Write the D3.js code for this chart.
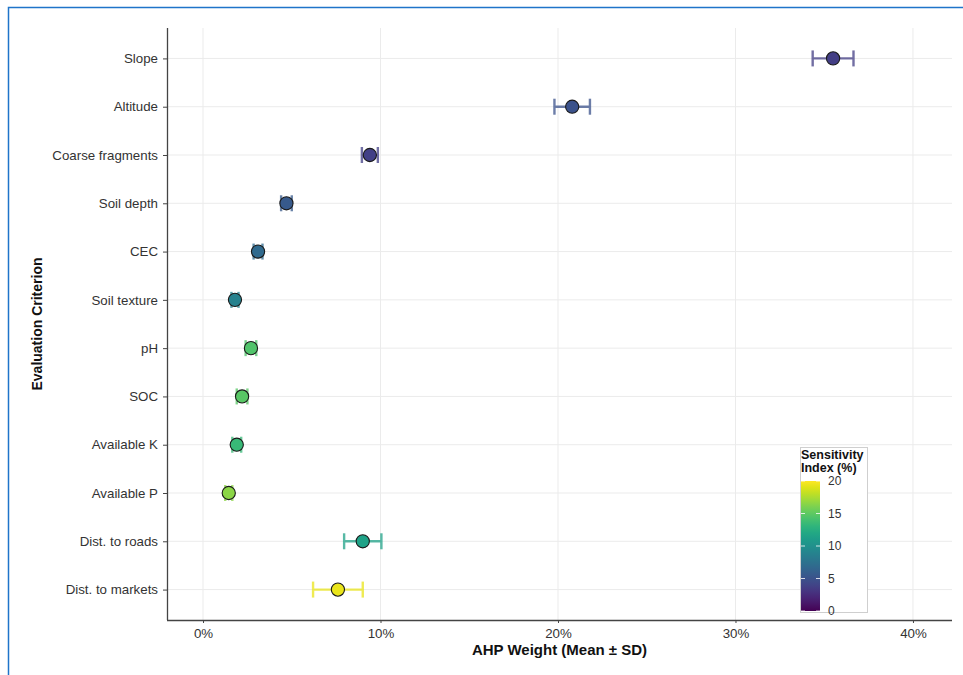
<!DOCTYPE html>
<html><head><meta charset="utf-8">
<script src="https://cdn.jsdelivr.net/npm/d3@7"></script>
<style>body{margin:0;background:#fff;}svg{display:block;font-family:"Liberation Sans",Arial,sans-serif;}</style>
</head><body>
<script>
const criteria = ["Slope","Altitude","Coarse fragments","Soil depth","CEC","Soil texture","pH","SOC","Available K","Available P","Dist. to roads","Dist. to markets"];
const meanWeight = [35.5, 20.8, 9.4, 4.7, 3.1, 1.8, 2.7, 2.2, 1.9, 1.45, 9.0, 7.6];
const sdWeight   = [1.15, 1.0, 0.45, 0.3, 0.25, 0.2, 0.3, 0.3, 0.25, 0.2, 1.05, 1.4];
const sensitivity = [3.6, 5.0, 3.8, 5.6, 6.8, 8.8, 14.5, 14.8, 13.5, 16.5, 11.5, 19.3];
const xTicks = [0, 10, 20, 30, 40];
const legendTicks = [0, 5, 10, 15, 20];

const W = 963, H = 675;
const svg = d3.select("body").append("svg").attr("width", W).attr("height", H);
svg.append("rect").attr("width", W).attr("height", H).attr("fill", "#fff");
// blue frame
svg.append("path").attr("d", `M8.5,${H} L8.5,7.5 L${W},7.5`).attr("fill","none").attr("stroke","#1f74c9").attr("stroke-width",1.5);

const L = 167, R = 952, T = 28, B = 620;
const x = d3.scaleLinear().domain([-2.03, 42.2]).range([L, R]);
const y = d3.scalePoint().domain(criteria).range([T, B]).padding(0.63);
const color = d3.scaleSequential(d3.interpolateViridis).domain([0, 20]);

const data = criteria.map((c, i) => ({c, m: meanWeight[i], sd: sdWeight[i], s: sensitivity[i]}));

// grid
const g = svg.append("g");
g.selectAll(".vg").data(xTicks).join("line")
  .attr("x1", d => x(d)).attr("x2", d => x(d)).attr("y1", T).attr("y2", B)
  .attr("stroke", "#ebebeb").attr("stroke-width", 1);
g.selectAll(".hg").data(criteria).join("line")
  .attr("x1", L).attr("x2", R).attr("y1", d => y(d)).attr("y2", d => y(d))
  .attr("stroke", "#ebebeb").attr("stroke-width", 1);

// axes
const xAxis = svg.append("g").attr("transform", `translate(0,${B})`)
  .call(d3.axisBottom(x).tickValues(xTicks).tickFormat(d => d + "%").tickSize(3).tickPadding(6).tickSizeOuter(0));
const yAxis = svg.append("g").attr("transform", `translate(${L},0)`)
  .call(d3.axisLeft(y).tickSize(4).tickPadding(5).tickSizeOuter(0));
[xAxis, yAxis].forEach(a => {
  a.select(".domain").attr("stroke", "#444").attr("stroke-width", 1.3);
  a.selectAll(".tick line").attr("stroke", "#444");
  a.selectAll(".tick text").attr("fill", "#333").style("font-size", "13.3px").style("font-family", '"Liberation Sans",Arial,sans-serif');
});
xAxis.select(".domain").attr("d", `M${L},0.5H${R}`);
yAxis.select(".domain").attr("d", `M0.5,${T}V${B}`);

// error bars
const eb = svg.append("g");
data.forEach(d => {
  const gg = eb.append("g").attr("stroke", color(d.s)).attr("stroke-width", 2.4).attr("opacity", 0.75);
  const yy = y(d.c);
  gg.append("line").attr("x1", x(d.m - d.sd)).attr("x2", x(d.m + d.sd)).attr("y1", yy).attr("y2", yy);
  [d.m - d.sd, d.m + d.sd].forEach(v => gg.append("line").attr("x1", x(v)).attr("x2", x(v)).attr("y1", yy - 8).attr("y2", yy + 8));
});
// points
svg.append("g").selectAll("circle").data(data).join("circle")
  .attr("cx", d => x(d.m)).attr("cy", d => y(d.c)).attr("r", 6.6)
  .attr("fill", d => color(d.s)).attr("stroke", "#1a1a1a").attr("stroke-width", 1.1);

// axis titles
svg.append("text").attr("x", (L + R) / 2).attr("y", 655).attr("text-anchor", "middle")
  .style("font-size", "15px").style("font-weight", "bold").attr("fill", "#111").text("AHP Weight (Mean ± SD)");
svg.append("text").attr("transform", `translate(42,${(T + B) / 2}) rotate(-90)`).attr("text-anchor", "middle")
  .style("font-size", "14px").style("font-weight", "bold").attr("fill", "#111").text("Evaluation Criterion");

// legend
const lg = svg.append("g");
lg.append("rect").attr("x", 800.5).attr("y", 447.5).attr("width", 67).attr("height", 165)
  .attr("fill", "#fff").attr("stroke", "#cfcfcf");
lg.append("text").attr("x", 801).attr("y", 459).style("font-size", "12.5px").style("font-weight", "bold").attr("fill", "#111").text("Sensitivity");
lg.append("text").attr("x", 801).attr("y", 472).style("font-size", "12.5px").style("font-weight", "bold").attr("fill", "#111").text("Index (%)");
const ly = d3.scaleLinear().domain([0, 20]).range([611, 481]);
const defs = svg.append("defs");
const grad = defs.append("linearGradient").attr("id", "vgrad").attr("x1", 0).attr("x2", 0).attr("y1", 1).attr("y2", 0);
d3.range(0, 21, 1).forEach(v => grad.append("stop").attr("offset", v / 20).attr("stop-color", color(v)));
lg.append("rect").attr("x", 801).attr("y", 481).attr("width", 19).attr("height", 130).attr("fill", "url(#vgrad)");
lg.selectAll(".lt").data(legendTicks).join("line")
  .attr("x1", 801).attr("x2", 805).attr("y1", d => ly(d)).attr("y2", d => ly(d)).attr("stroke", "#fff").attr("stroke-width", 0.8);
lg.selectAll(".lt2").data(legendTicks).join("line")
  .attr("x1", 816).attr("x2", 820).attr("y1", d => ly(d)).attr("y2", d => ly(d)).attr("stroke", "#fff").attr("stroke-width", 0.8);
lg.selectAll(".ll").data(legendTicks).join("text")
  .attr("x", 828).attr("y", d => ly(d)).attr("dy", "0.35em").style("font-size", "12px").attr("fill", "#333").text(d => d);
</script>
</body></html>
